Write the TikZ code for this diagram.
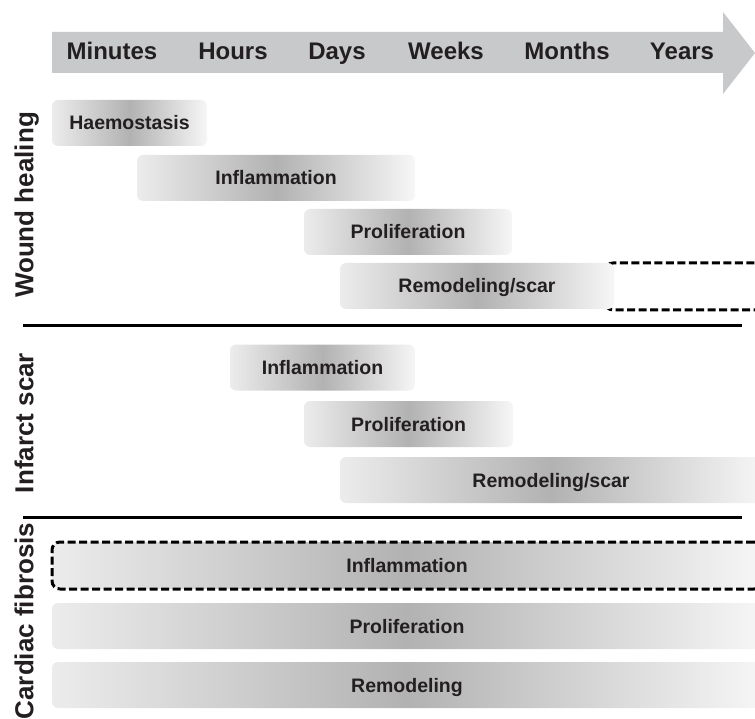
\documentclass[tikz,border=0pt]{standalone}
\usepackage{fontspec}
\setmainfont{Liberation Sans}
\usetikzlibrary{calc}
\definecolor{arrowgray}{RGB}{200,201,203}
\definecolor{barlight}{RGB}{236,236,236}
\definecolor{bardark}{RGB}{178,178,178}
\definecolor{barpale}{RGB}{246,246,246}
\definecolor{inkgray}{RGB}{35,31,32}
\tikzset{
	phasebar/.style={rounded corners=6pt, left color=barlight, right color=barpale, middle color=bardark,
		text=inkgray, font=\fontsize{19.5}{20}\selectfont\bfseries, inner sep=0pt,
		text height=14pt, text depth=0pt, minimum height=46pt},
	timelabel/.style={anchor=base, text=inkgray, font=\fontsize{24}{26}\selectfont\bfseries},
	grouplabel/.style={rotate=90, text=inkgray, font=\fontsize{26}{28}\selectfont\bfseries,
		inner sep=0pt, text height=18.6pt, text depth=0pt},
	dashbox/.style={draw=black, line width=3pt, dash pattern=on 8pt off 3.5pt, rounded corners=8pt},
	divider/.style={line width=3pt}
}

\begin{document}
\begin{tikzpicture}[x=1pt,y=-1pt]
			\useasboundingbox (0,0) rectangle (755,719);
			% time arrow
			\fill[arrowgray] (52,32) -- (723,32) -- (723,12) -- (755,53) -- (723,94) -- (723,73) -- (52,73) -- cycle;
			\node[timelabel] (min) at (112,60) {Minutes};
			\node[timelabel] (hrs) at (233,60) {Hours};
			\node[timelabel] (day) at (337,60) {Days};
			\node[timelabel] (wks) at (446,60) {Weeks};
			\node[timelabel] (mon) at (567,60) {Months};
			\node[timelabel] (yrs) at (682,60) {Years};
			% wound healing
			\draw[dashbox] (605,263) rectangle (780,310);
			\node[phasebar, minimum width=155pt] (haem) at (129.5,123) {Haemostasis};
			\node[phasebar, minimum width=278pt] (winfl) at (276,178) {Inflammation};
			\node[phasebar, minimum width=208pt] (wprol) at (408,232) {Proliferation};
			\node[phasebar, minimum width=274pt] (wremo) at (477,286) {Remodeling/scar};
			\node[grouplabel] (wound) at (24,205) {Wound healing};
			\coordinate (d1a) at (23,326);
			\coordinate (d1b) at (742,326);
			\draw[divider] (d1a) -- (d1b);
			% infarct scar
			\node[phasebar, minimum width=185pt] (iinfl) at (322.5,367.5) {Inflammation};
			\node[phasebar, minimum width=209pt] (iprol) at (408.5,424) {Proliferation};
			\node[phasebar, minimum width=422pt] (iremo) at (551,480) {Remodeling/scar};
			\node[grouplabel] (infarct) at (24,423) {Infarct scar};
			\coordinate (d2a) at (23,517);
			\coordinate (d2b) at (742,517);
			\draw[divider] (d2a) -- (d2b);
			% cardiac fibrosis
			\node[phasebar, dashbox, minimum width=710pt, minimum height=47pt] (cinfl) at (407,565.5) {Inflammation};
			\node[phasebar, minimum width=710pt] (cprol) at (407,626) {Proliferation};
			\node[phasebar, minimum width=710pt] (cremo) at (407,685) {Remodeling};
			\node[grouplabel] (cardiac) at (24,621) {Cardiac fibrosis};
		\end{tikzpicture}
\end{document}
